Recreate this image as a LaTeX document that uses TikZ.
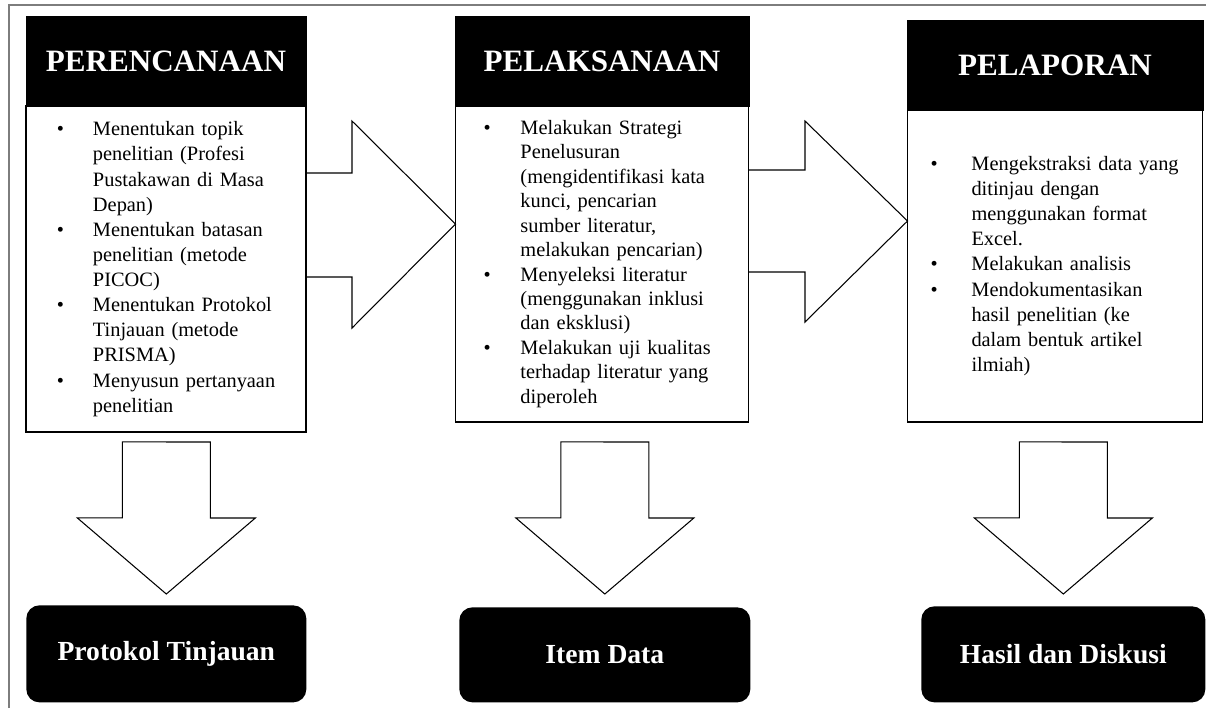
\documentclass[tikz,border=0pt]{standalone}
\usepackage{fontspec}
\setmainfont{Liberation Serif}
\usetikzlibrary{positioning,calc}
\definecolor{framegray}{RGB}{125,125,125}
\newcommand{\bl}{\textbullet}

\begin{document}
\begin{tikzpicture}[x=0.02cm,y=-0.02cm,
  head/.style={fill=black,draw=black,text=white,font=\fontsize{17.7}{20}\selectfont\bfseries,
    minimum height=1.8cm,inner sep=0pt,outer sep=0pt,anchor=north west},
  body/.style={draw=black,line width=0.9pt,inner sep=0pt,outer sep=0pt,align=left,
    font=\fontsize{11.6}{14.3}\selectfont},
  result/.style={fill=black,rounded corners=0.26cm,text=white,
    font=\fontsize{15.7}{18}\selectfont\bfseries,inner sep=0pt,anchor=north west},
  blk/.style={draw=black,line width=0.6pt,line join=miter}]
       \useasboundingbox (0,0) rectangle (1206,708);
       \fill[white] (0,0) rectangle (1206,708);
       \draw[framegray,line width=1pt] (9,708) -- (9,5) -- (1206,5);
       % the three stages
       \node[head,minimum width=5.6cm] (h1) at (26,16) {PERENCANAAN};
       \node[body,below=0pt of h1,minimum width=5.6cm,minimum height=6.52cm,text width=5.6cm] (b1)
         {\hspace*{0.62cm}\begin{tabular}{@{}p{0.72cm}@{}l@{}}
           \bl & Menentukan topik\\
               & penelitian (Profesi\\
               & Pustakawan di Masa\\
               & Depan)\\
           \bl & Menentukan batasan\\
               & penelitian (metode\\
               & PICOC)\\
           \bl & Menentukan Protokol\\
               & Tinjauan (metode\\
               & PRISMA)\\
           \bl & Menyusun pertanyaan\\
               & penelitian
         \end{tabular}};
       \node[head,minimum width=5.88cm] (h2) at (455,16) {PELAKSANAAN};
       \node[body,below=0pt of h2,minimum width=5.86cm,minimum height=6.32cm,text width=5.86cm,
         font=\fontsize{11.6}{13.9}\selectfont] (b2)
         {\hspace*{0.56cm}\begin{tabular}{@{}p{0.74cm}@{}l@{}}
           \bl & Melakukan Strategi\\
               & Penelusuran\\
               & (mengidentifikasi kata\\
               & kunci, pencarian\\
               & sumber literatur,\\
               & melakukan pencarian)\\
           \bl & Menyeleksi literatur\\
               & (menggunakan inklusi\\
               & dan eksklusi)\\
           \bl & Melakukan uji kualitas\\
               & terhadap literatur yang\\
               & diperoleh
         \end{tabular}};
       \node[head,minimum width=5.92cm] (h3) at (907,20) {PELAPORAN};
       \node[body,below=0pt of h3,minimum width=5.9cm,minimum height=6.24cm,text width=5.9cm] (b3)
         {\hspace*{0.46cm}\begin{tabular}{@{}p{0.82cm}@{}l@{}}
           \bl & Mengekstraksi data yang\\
               & ditinjau dengan\\
               & menggunakan format\\
               & Excel.\\
           \bl & Melakukan analisis\\
           \bl & Mendokumentasikan\\
               & hasil penelitian (ke\\
               & dalam bentuk artikel\\
               & ilmiah)
         \end{tabular}};
       % outcomes
       \node[result,minimum width=5.6cm,minimum height=1.94cm] (r1) at (26,605) {Protokol Tinjauan};
       \node[result,minimum width=5.82cm,minimum height=1.9cm] (r2) at (459,607) {Item Data};
       \node[result,minimum width=5.68cm,minimum height=1.92cm] (r3) at (921,606) {Hasil dan Diskusi};
       % block arrows between stages
       \draw[blk] (b1.east |- 0,173) -| (352,121) -- (b2.west |- 0,224) -- (352,328) |- (b1.east |- 0,277);
       \draw[blk] (b2.east |- 0,170) -| (805,121) -- (b3.west |- 0,221) -- (805,322) |- (b2.east |- 0,272);
       % block arrows down to the outcomes
       \draw[blk] ($(r1.north |- b1.south)+(-44,10)$) -- ++(0,76) -- ++(-45,0) -- ($(r1.north)+(0,-11)$)
         -- ++(89,-76) -- ++(-45,0) -- ++(0,-76) -- cycle;
       \draw[blk] ($(r2.north |- b2.south)+(-44,20)$) -- ++(0,76) -- ++(-45,0) -- ($(r2.north)+(0,-13)$)
         -- ++(89,-76) -- ++(-45,0) -- ++(0,-76) -- cycle;
       \draw[blk] ($(r3.north |- b3.south)+(-44,20)$) -- ++(0,76) -- ++(-45,0) -- ($(r3.north)+(0,-12)$)
         -- ++(89,-76) -- ++(-45,0) -- ++(0,-76) -- cycle;
      \end{tikzpicture}
\end{document}
